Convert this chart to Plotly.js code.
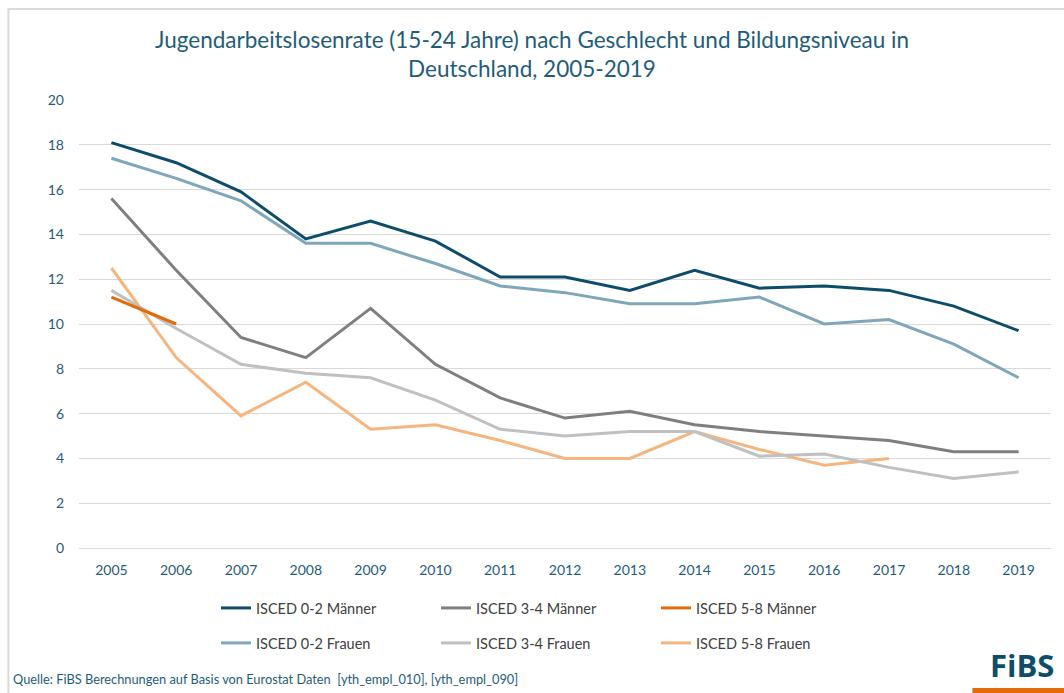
<!DOCTYPE html>
<html>
<head>
<meta charset="utf-8">
<script src="https://cdn.plot.ly/plotly-3.0.1.min.js"></script>
<style>
  html, body { margin: 0; padding: 0; background: #ffffff; }
  #chart { width: 1064px; height: 693px; }
</style>
</head>
<body>
<div id="chart"></div>
<script>
const years = ["2005","2006","2007","2008","2009","2010","2011","2012","2013","2014","2015","2016","2017","2018","2019"];

const isced02Maenner = [18.1, 17.2, 15.9, 13.8, 14.6, 13.7, 12.1, 12.1, 11.5, 12.4, 11.6, 11.7, 11.5, 10.8, 9.7];
const isced34Maenner = [15.6, 12.4, 9.4, 8.5, 10.7, 8.2, 6.7, 5.8, 6.1, 5.5, 5.2, 5.0, 4.8, 4.3, 4.3];
const isced58Maenner = [11.2, 10.0, null, null, null, null, null, null, null, null, null, null, null, null, null];
const isced02Frauen = [17.4, 16.5, 15.5, 13.6, 13.6, 12.7, 11.7, 11.4, 10.9, 10.9, 11.2, 10.0, 10.2, 9.1, 7.6];
const isced34Frauen = [11.5, 9.8, 8.2, 7.8, 7.6, 6.6, 5.3, 5.0, 5.2, 5.2, 4.1, 4.2, 3.6, 3.1, 3.4];
const isced58Frauen = [12.5, 8.5, 5.9, 7.4, 5.3, 5.5, 4.8, 4.0, 4.0, 5.2, 4.4, 3.7, 4.0, null, null];

const seriesNames = ["ISCED 0-2 Männer", "ISCED 3-4 Männer", "ISCED 5-8 Männer",
                     "ISCED 0-2 Frauen", "ISCED 3-4 Frauen", "ISCED 5-8 Frauen"];
const yTicks = [0, 2, 4, 6, 8, 10, 12, 14, 16, 18, 20];

const titleText = "Jugendarbeitslosenrate (15-24 Jahre) nach Geschlecht und Bildungsniveau in<br>Deutschland, 2005-2019";
const sourceText = "Quelle: FiBS Berechnungen auf Basis von Eurostat Daten  [yth_empl_010], [yth_empl_090]";

const colors = ["#0d4d6b", "#7f7f7f", "#e36c0a", "#7fa6b9", "#c0c0c0", "#f5b57e"];
const seriesData = [isced02Maenner, isced34Maenner, isced58Maenner, isced02Frauen, isced34Frauen, isced58Frauen];
const legendIds = ["legend", "legend", "legend", "legend2", "legend2", "legend2"];

const traces = seriesData.map((vals, i) => ({
  type: "scatter",
  mode: "lines",
  x: years,
  y: vals,
  name: seriesNames[i],
  legend: legendIds[i],
  line: { color: colors[i], width: 3 },
  connectgaps: false,
  hoverinfo: "x+y+name"
}));

// draw order: lighter series behind; legend order is reversed back to normal
const order = [5, 4, 3, 2, 1, 0];
const orderedTraces = order.map(i => traces[i]);

const font = "Lato, 'Open Sans', sans-serif";
const teal = "#1f5c7a";

const W = 1064, H = 693;
const L = 78.6, R = 13.4, T = 100, B = 145;
const pw = W - L - R, ph = H - T - B;
const px = v => (v - L) / pw;
const py = v => (H - B - v) / ph;

const legendCommon = {
  orientation: "h",
  xref: "container", yref: "container",
  xanchor: "left", yanchor: "middle",
  entrywidth: 175, entrywidthmode: "pixels",
  font: { family: font, size: 14.5, color: "#404040" },
  bgcolor: "rgba(0,0,0,0)",
  traceorder: "reversed",
  itemclick: false, itemdoubleclick: false
};

const layout = {
  width: W, height: H,
  margin: { l: L, r: R, t: T, b: B },
  paper_bgcolor: "#ffffff",
  plot_bgcolor: "#ffffff",
  font: { family: font, color: teal },
  showlegend: true,
  title: {
    text: titleText,
    font: { family: font, size: 22.5, color: teal },
    xref: "container", x: 0.5, xanchor: "center",
    yref: "container", y: 1 - 48 / H, yanchor: "top"
  },
  xaxis: {
    type: "category",
    categoryorder: "array",
    categoryarray: years,
    range: [-0.5, 14.5],
    showgrid: false,
    zeroline: false,
    showline: false,
    ticks: "",
    tickfont: { family: font, size: 14, color: teal },
    ticklabelstandoff: 12,
    fixedrange: true
  },
  yaxis: {
    range: [0, 20],
    tickvals: yTicks,
    ticktext: yTicks.map(String),
    showgrid: true,
    gridcolor: "#d9d9d9",
    gridwidth: 1,
    zeroline: true,
    zerolinecolor: "#d9d9d9",
    zerolinewidth: 1,
    showline: false,
    ticks: "",
    tickfont: { family: font, size: 14, color: teal },
    ticklabelstandoff: 14,
    fixedrange: true
  },
  legend: Object.assign({}, legendCommon, { x: 216 / W, y: 1 - 608 / H }),
  legend2: Object.assign({}, legendCommon, { x: 216 / W, y: 1 - 643 / H }),
  shapes: [
    // outer frame (cropped on right and bottom)
    { type: "path", xref: "paper", yref: "paper",
      path: `M ${px(8)},${py(720)} L ${px(8)},${py(9)} L ${px(1100)},${py(9)}`,
      line: { color: "#d9d9d9", width: 2 }, layer: "below" },
    // logo underline bar
    { type: "path", xref: "paper", yref: "paper",
      path: `M ${px(972)},${py(688)} L ${px(1064)},${py(688)} L ${px(1064)},${py(693)} L ${px(972)},${py(693)} Z`,
      fillcolor: "#e36c0a", line: { width: 0 }, layer: "above" }
  ],
  annotations: [
    { text: sourceText, xref: "paper", yref: "paper",
      x: px(11), y: py(679), xanchor: "left", yanchor: "middle",
      showarrow: false, font: { family: font, size: 12.8, color: teal } },
    { text: "<b>FiBS</b>", xref: "paper", yref: "paper",
      x: px(1056), y: py(665), xanchor: "right", yanchor: "middle",
      showarrow: false, font: { family: "'Open Sans', sans-serif", size: 31, color: "#0d4d6b" } }
  ]
};

Plotly.newPlot("chart", orderedTraces, layout, { displayModeBar: false, staticPlot: false, responsive: false });
</script>
</body>
</html>
